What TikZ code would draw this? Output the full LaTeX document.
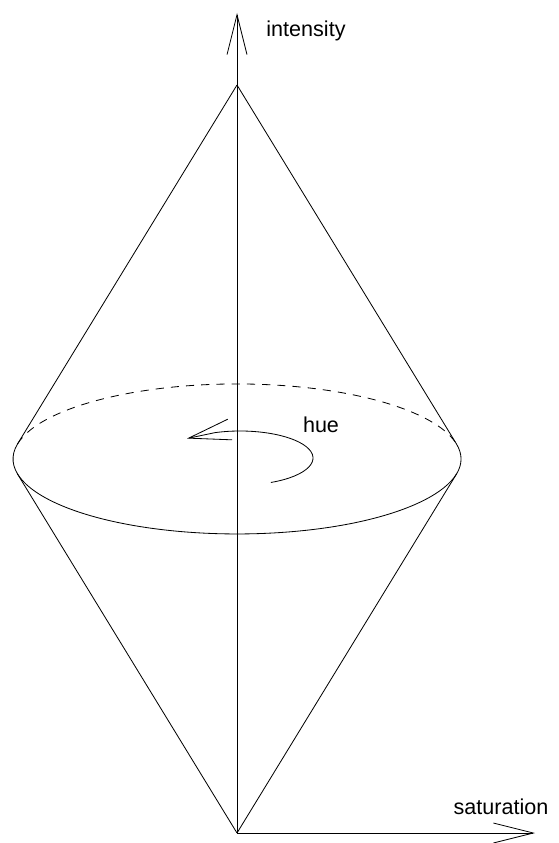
\documentclass[tikz,border=0pt]{standalone}
\usepackage{fontspec}
\setmainfont{Liberation Sans}
\usetikzlibrary{arrows.meta}
\tikzset{axisarrow/.style = {-{Straight Barb[length=34pt, width=17pt]}}}
\tikzset{lbl/.style = {anchor=base, inner sep=0, font=\fontsize{18.4}{22}\selectfont}}
\tikzset{
  every picture/.style={
    every path/.style={line width=0.7pt},
  }
}

\begin{document}
\begin{tikzpicture}[x=0.03cm, y=-0.03cm]
      \useasboundingbox (0,0) rectangle (558,843);
      \coordinate (top) at (237,85);
      \coordinate (bot) at (237,833);
      \coordinate (tl) at (17.5,444);
      \coordinate (tr) at (456.5,444);
      \coordinate (bl) at (17.5,474);
      \coordinate (br) at (456.5,474);
      \coordinate (iend) at (237,13);
      \coordinate (send) at (535,833);
      \coordinate (hstart) at (270.85,482.47);
      \coordinate (htip) at (187,438.5);
      \node[lbl] (intensity) at (306,37) {intensity};
      \node[lbl] (saturation) at (501,814) {saturation};
      \node[lbl] (hue) at (321,432) {hue};
      \draw[axisarrow] (bot) -- (iend);
      \draw[axisarrow] (bot) -- (send);
      \draw (top) -- (tl);
      \draw (top) -- (tr);
      \draw (bot) -- (bl);
      \draw (bot) -- (br);
      \draw[dash pattern=on 7pt off 6pt] (tl) arc[start angle=-168.5, end angle=-11.5, x radius=224, y radius=75];
      \draw (tr) arc[start angle=-11.5, end angle=191.5, x radius=224, y radius=75];
      \draw[-{Straight Barb[length=36pt, width=18pt]}] (hstart) arc[start angle=65, end angle=-110, x radius=73, y radius=27] -- (htip);
    \end{tikzpicture}
\end{document}
